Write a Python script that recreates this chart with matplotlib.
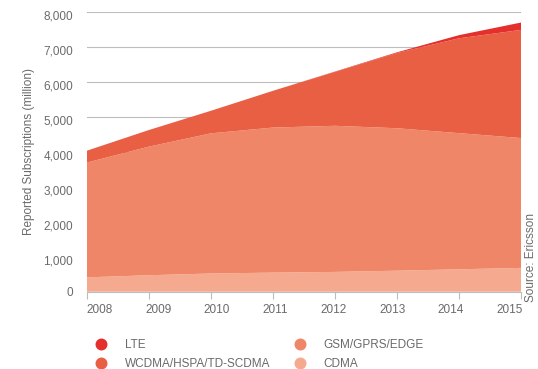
import matplotlib.pyplot as plt
import matplotlib.transforms as mtransforms
from matplotlib.lines import Line2D
from matplotlib.ticker import FuncFormatter

plt.rcParams['font.family'] = ['Liberation Sans', 'DejaVu Sans']

# Reported subscriptions by technology, millions
years = [2008, 2009, 2010, 2011, 2012, 2013, 2014, 2015]
cdma = [410, 470, 520, 545, 565, 600, 640, 680]
gsm = [3280, 3675, 4005, 4145, 4175, 4070, 3890, 3710]
wcdma = [340, 475, 645, 1050, 1540, 2150, 2710, 3090]
lte = [0, 0, 0, 0, 10, 20, 90, 210]

labels = ['CDMA', 'GSM/GPRS/EDGE', 'WCDMA/HSPA/TD-SCDMA', 'LTE']
colors = ['#f5a98f', '#f08668', '#e95f44', '#e42f2d']
txt = '#6a6a6a'
fs = 8.5

fig = plt.figure(figsize=(5.38, 3.69), dpi=100)
ax = fig.add_axes([0.1617, 0.2095, 0.8067, 0.7588])

ax.stackplot(years, cdma, gsm, wcdma, lte, colors=colors, linewidth=0)

ax.set_xlim(2008, 2015)
ax.set_ylim(0, 8000)
ax.set_yticks(range(0, 8001, 1000))
ax.yaxis.set_major_formatter(FuncFormatter(lambda v, p: '{:,.0f}'.format(v)))
ax.set_xticks(years)
ax.grid(axis='y', color='#bdbdbd', linewidth=0.8)
ax.set_axisbelow(True)

for s in ['top', 'right', 'left']:
    ax.spines[s].set_visible(False)
ax.spines['bottom'].set_color('#bdbdbd')
ax.spines['bottom'].set_linewidth(0.8)

ax.tick_params(axis='y', length=0, pad=10, labelsize=fs, labelcolor=txt)
ax.tick_params(axis='x', length=5, width=0.8, color='#bdbdbd', pad=4,
               labelsize=fs, labelcolor=txt)

# year labels are spread evenly across the axis, a little inward of each tick
for i, lab in enumerate(ax.get_xticklabels()):
    dx = (13 - 3.5 * i) / 100
    lab.set_transform(lab.get_transform() +
                      mtransforms.ScaledTranslation(dx, 0, fig.dpi_scale_trans))
for lab in ax.get_yticklabels()[1:]:
    lab.set_transform(lab.get_transform() +
                      mtransforms.ScaledTranslation(0, -0.035, fig.dpi_scale_trans))

ax.set_ylabel('Reported Subscriptions (million)', fontsize=fs, color=txt,
              labelpad=6)
fig.text(0.987, 0.182, 'Source: Ericsson', rotation=90, fontsize=fs,
         color=txt, ha='center', va='bottom')

handles = [Line2D([], [], marker='o', linestyle='none', markersize=8.6,
                  markerfacecolor=colors[i], markeredgewidth=0)
           for i in [3, 2, 1, 0]]
names = [labels[i] for i in [3, 2, 1, 0]]
fig.legend(handles, names, ncol=2, loc='upper left',
           bbox_to_anchor=(0.157, 0.095), frameon=False, fontsize=fs,
           labelcolor=txt, handletextpad=1.0, columnspacing=1.5,
           labelspacing=0.6, borderaxespad=0)

fig.savefig('out.png', dpi=100)
